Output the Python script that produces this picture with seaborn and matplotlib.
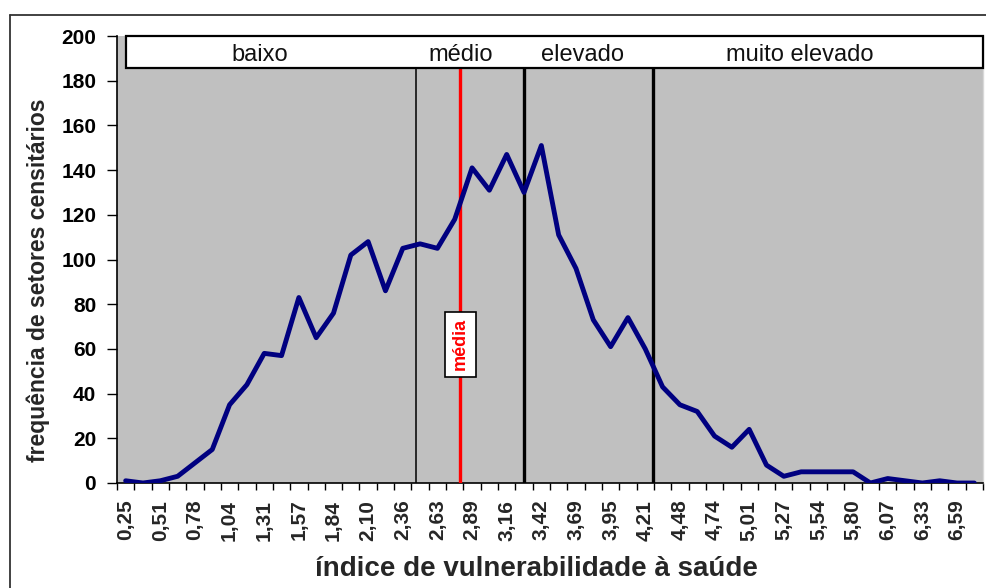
import matplotlib
matplotlib.use("Agg")
import matplotlib.pyplot as plt
from matplotlib.lines import Line2D
from matplotlib.patches import Rectangle
import seaborn as sns
import pandas as pd

# ---- data -------------------------------------------------------------
categories = ["0,25", "0,38", "0,51", "0,65", "0,78", "0,91", "1,04", "1,17",
              "1,31", "1,44", "1,57", "1,70", "1,84", "1,97", "2,10", "2,23",
              "2,36", "2,50", "2,63", "2,76", "2,89", "3,02", "3,16", "3,29",
              "3,42", "3,55", "3,69", "3,82", "3,95", "4,08", "4,21", "4,35",
              "4,48", "4,61", "4,74", "4,87", "5,01", "5,14", "5,27", "5,40",
              "5,54", "5,67", "5,80", "5,93", "6,07", "6,20", "6,33", "6,46",
              "6,59", "6,72"]
frequencia = [1, 0, 1, 3, 9, 15, 35, 44, 58, 57, 83, 65, 76, 102, 108, 86,
              105, 107, 105, 118, 141, 131, 147, 130, 151, 111, 96, 73, 61, 74,
              60, 43, 35, 32, 21, 16, 24, 8, 3, 5, 5, 5, 5, 0, 2, 1,
              0, 1, 0, 0]
tick_labels = categories[::2]

# class labels and their separators (in category-index units)
class_names = ["baixo", "médio", "elevado", "muito elevado"]
class_label_pos = [7.72, 19.36, 26.39, 38.93]
thin_breaks = [16.75]
thick_breaks = [22.98, 30.46]
media_pos = 19.32
media_label_y = 62

df = pd.DataFrame({"indice": categories, "freq": frequencia})

# ---- figure -------------------------------------------------------------
sns.set_theme(style="white")
plt.rcParams["font.family"] = ["Liberation Sans", "DejaVu Sans"]

W, H = 986, 588
fig = plt.figure(figsize=(W / 100, H / 100), dpi=100)
ax = fig.add_axes([117 / W, 1 - 483 / H, (983 - 117) / W, (483 - 36) / H])
ax.set_facecolor("#C0C0C0")

sns.lineplot(data=df, x="indice", y="freq", sort=False, ax=ax,
             color="#000080", linewidth=3.5, zorder=5)

ax.set_xlim(-0.5, len(categories) - 0.5)
ax.set_ylim(0, 200)
ax.set_yticks(range(0, 201, 20))
ax.tick_params(axis="y", which="major", length=7, width=1, pad=8,
               labelsize=15, left=True, colors="black")
for t in ax.get_yticklabels():
    t.set_fontweight("bold")

# x: labels at every other category, tick marks at category borders
ax.set_xticks(range(0, len(categories), 2))
ax.set_xticklabels(tick_labels, rotation=90, fontsize=15, fontweight="bold")
ax.set_xticks([i - 0.5 for i in range(len(categories) + 1)], minor=True)
ax.tick_params(axis="x", which="major", length=0, pad=12)
ax.tick_params(axis="x", which="minor", length=5, width=1, bottom=True,
               color="black")

for side in ["left", "bottom"]:
    ax.spines[side].set_color("black")
    ax.spines[side].set_linewidth(1.2)
ax.spines["top"].set_visible(False)
ax.spines["right"].set_color("#D8D8D8")
ax.spines["right"].set_linewidth(1)

ax.set_xlabel("índice de vulnerabilidade à saúde", fontsize=20,
              fontweight="bold")
ax.xaxis.set_label_coords(0.484, -0.163)
ax.set_ylabel("frequência de setores censitários", fontsize=16.5,
              fontweight="bold")
ax.yaxis.set_label_coords(-0.077, 0.454)

# class band at the top
band_bottom = 185.5
ax.add_patch(Rectangle((0, band_bottom), len(categories) - 0.5, 200 - band_bottom,
                       facecolor="white", edgecolor="black", linewidth=1.6,
                       zorder=6, clip_on=False))
for name, xp in zip(class_names, class_label_pos):
    ax.text(xp, 191.3, name, ha="center", va="center", fontsize=17,
            color="#111111", zorder=7)

for xb in thin_breaks:
    ax.plot([xb, xb], [0, band_bottom], color="black", linewidth=1.1, zorder=4)
for xb in thick_breaks:
    ax.plot([xb, xb], [0, band_bottom], color="black", linewidth=2.4, zorder=4)
ax.plot([media_pos, media_pos], [0, band_bottom], color="#FF0000",
        linewidth=2.4, zorder=4)
ax.text(media_pos, media_label_y, "média", rotation=90, ha="center",
        va="center", color="#FF0000", fontsize=13, fontweight="bold", zorder=8,
        bbox=dict(boxstyle="square,pad=0.38", facecolor="white",
                  edgecolor="black", linewidth=1.2))

# outer frame (partly cut by the image edges)
fig.add_artist(Line2D([10 / W, 10 / W], [0, 1 - 15 / H], color="#333333",
                      linewidth=1.3))
fig.add_artist(Line2D([10 / W, 1], [1 - 15 / H, 1 - 15 / H], color="#333333",
                      linewidth=1.3))

fig.savefig("out.png", dpi=100)
